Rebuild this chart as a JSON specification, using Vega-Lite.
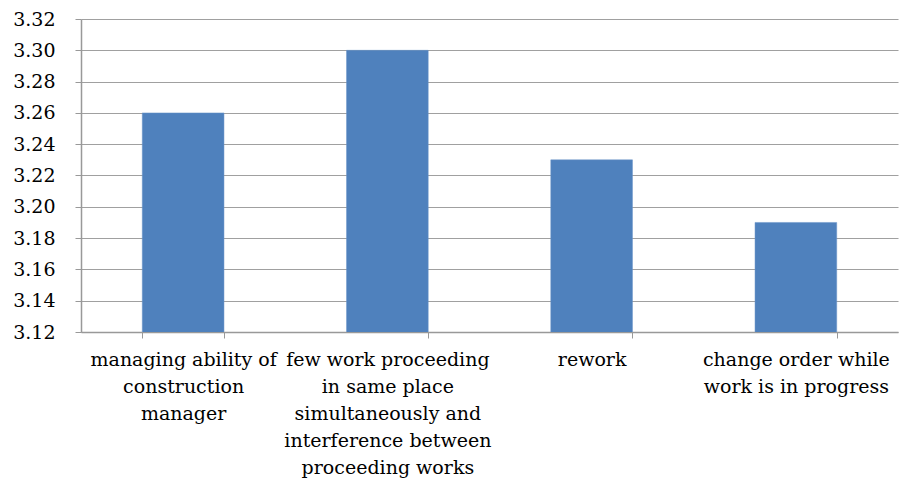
{
  "$schema": "https://vega.github.io/schema/vega-lite/v6.json",
  "width": 817,
  "height": 313,
  "autosize": "none",
  "padding": {"left": 81, "top": 19, "right": 5, "bottom": 149},
  "background": "white",
  "data": {
    "values": [
      {"factor": "managing ability of|construction|manager", "score": 3.26},
      {"factor": "few work proceeding|in same place|simultaneously and|interference between|proceeding works", "score": 3.30},
      {"factor": "rework", "score": 3.23},
      {"factor": "change order while|work is in progress", "score": 3.19}
    ]
  },
  "mark": {"type": "bar", "color": "#4F81BD", "stroke": "#6A95C9", "strokeWidth": 0.5, "clip": true},
  "encoding": {
    "x": {
      "field": "factor",
      "type": "nominal",
      "sort": null,
      "title": null,
      "scale": {"paddingInner": 0.6, "paddingOuter": 0.3},
      "axis": {
        "labelExpr": "split(datum.label, '|')",
        "labelAngle": 0,
        "labelFontSize": 19,
        "labelColor": "black",
        "labelLineHeight": 27,
        "labelPadding": 12,
        "labelLimit": 0,
        "tickBand": "extent",
        "tickSize": 6,
        "tickColor": "#999999",
        "domainColor": "#999999",
        "domainWidth": 1.5
      }
    },
    "y": {
      "field": "score",
      "type": "quantitative",
      "title": null,
      "scale": {"domain": [3.12, 3.32], "nice": false, "zero": false},
      "axis": {
        "values": [3.12, 3.14, 3.16, 3.18, 3.2, 3.22, 3.24, 3.26, 3.28, 3.3, 3.32],
        "format": ".2f",
        "labelFontSize": 19,
        "labelColor": "black",
        "labelPadding": 20,
        "tickSize": 6,
        "tickColor": "#999999",
        "domainColor": "#999999",
        "domainWidth": 1.5,
        "grid": true,
        "gridColor": "#A0A0A0",
        "gridWidth": 1.2
      }
    }
  },
  "config": {
    "font": "DejaVu Serif",
    "axis": {"labelFont": "DejaVu Serif"},
    "view": {"stroke": null}
  }
}
